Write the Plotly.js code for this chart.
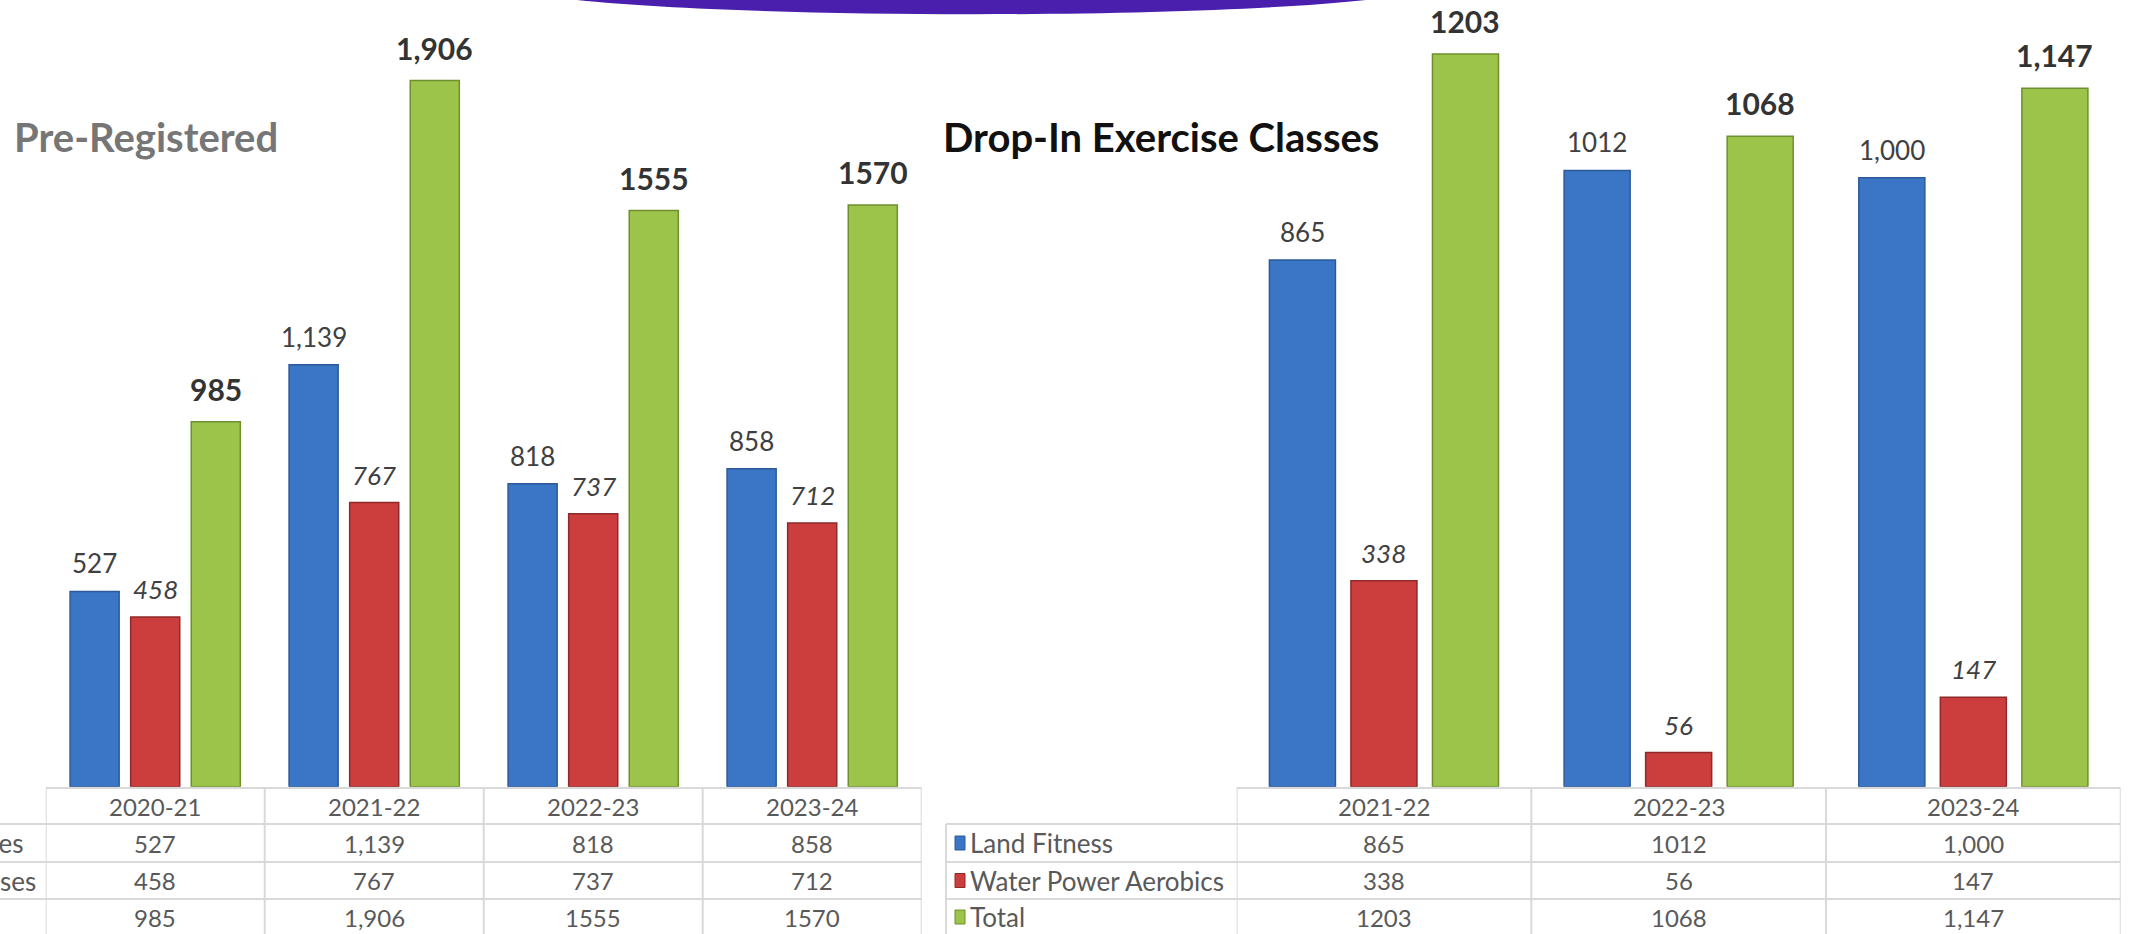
<!DOCTYPE html>
<html><head><meta charset="utf-8">
<script src="https://cdn.plot.ly/plotly-3.0.1.min.js"></script>
<style>html,body{margin:0;padding:0;background:#fff;overflow:hidden}#chart{width:2134px;height:934px}</style>
</head><body><div id="chart"></div>
<script>
// ---------- data ----------
const preCategories = ["2020-21", "2021-22", "2022-23", "2023-24"];
const preLand = [527, 1139, 818, 858];
const preWater = [458, 767, 737, 712];
const preTotal = [985, 1906, 1555, 1570];
const preLandLabels = ["527", "1,139", "818", "858"];
const preWaterLabels = ["458", "767", "737", "712"];
const preTotalLabels = ["985", "1,906", "1555", "1570"];
const preRowNames = ["Land Fitness Classes", "Water Fitness Classes"];

const dropCategories = ["2021-22", "2022-23", "2023-24"];
const dropLand = [865, 1012, 1000];
const dropWater = [338, 56, 147];
const dropTotal = [1203, 1068, 1147];
const dropLandLabels = ["865", "1012", "1,000"];
const dropWaterLabels = ["338", "56", "147"];
const dropTotalLabels = ["1203", "1068", "1,147"];
const dropRowNames = ["Land Fitness", "Water Power Aerobics", "Total"];

const titles = ["Pre-Registered", "Drop-In Exercise Classes"];

// ---------- styling / layout helpers ----------
const W = 2134, H = 934;
const px = v => v / W;
const py = v => 1 - v / H;
const FONT = '"Century Gothic", Lato, "Open Sans", sans-serif';
const BLUE = '#3b76c6', RED = '#cc3d3d', GREEN = '#9cc44a';
const BLUE_L = '#2c5a98', RED_L = '#8f2a2a', GREEN_L = '#6f8f2e';
const GRID = '#d9d9d9';
const BARGAP = 0.17, GROUPGAP = 0.19;
const SLOT = (1 - BARGAP) / 3;

const baseline = 786.7;
const rowsY = [788, 824, 862, 899, 934];
const rowCenters = [806, 843, 880.5, 917];

function bar(x, y, color, line, xa, ya, name) {
  return {type: 'bar', x: x, y: y, name: name, xaxis: xa, yaxis: ya,
    marker: {color: color, line: {color: line, width: 1.5}},
    hoverinfo: 'x+y', showlegend: false};
}

const data = [
  bar(preCategories, preLand, BLUE, BLUE_L, 'x', 'y', 'Land'),
  bar(preCategories, preWater, RED, RED_L, 'x', 'y', 'Water'),
  bar(preCategories, preTotal, GREEN, GREEN_L, 'x', 'y', 'Total'),
  bar(dropCategories, dropLand, BLUE, BLUE_L, 'x2', 'y2', dropRowNames[0]),
  bar(dropCategories, dropWater, RED, RED_L, 'x2', 'y2', dropRowNames[1]),
  bar(dropCategories, dropTotal, GREEN, GREEN_L, 'x2', 'y2', dropRowNames[2])
];

const annotations = [];
const shapes = [];

function barLabels(vals, labels, k, xref, yref, style) {
  vals.forEach((v, i) => {
    annotations.push({xref: xref, yref: yref, x: i + (k - 1) * SLOT, y: v,
      text: labels[i], showarrow: false, xanchor: 'center', yanchor: 'bottom', yshift: style.shift,
      font: {family: FONT, size: style.size, color: style.color, weight: style.weight, style: style.fstyle}});
  });
}
const sBlue = {size: 26, color: '#404040', weight: 'normal', fstyle: 'normal', shift: 10};
const sRed = {size: 26, color: '#404040', weight: 'normal', fstyle: 'italic', shift: 10};
const sGreen = {size: 30, color: '#333333', weight: 'bold', fstyle: 'normal', shift: 13};

barLabels(preLand, preLandLabels, 0, 'x', 'y', sBlue);
barLabels(preWater, preWaterLabels, 1, 'x', 'y', sRed);
barLabels(preTotal, preTotalLabels, 2, 'x', 'y', sGreen);
barLabels(dropLand, dropLandLabels, 0, 'x2', 'y2', sBlue);
barLabels(dropWater, dropWaterLabels, 1, 'x2', 'y2', sRed);
barLabels(dropTotal, dropTotalLabels, 2, 'x2', 'y2', sGreen);

// ---------- data tables ----------
const cellFont = {family: FONT, size: 24, color: '#595959'};
const nameFont = {family: FONT, size: 26, color: '#595959'};
function table(cats, rows, xref, leftPx, rightPx) {
  const n = cats.length;
  for (let i = 0; i <= n; i++) {
    shapes.push({type: 'line', xref: xref, yref: 'paper', x0: i - 0.5, x1: i - 0.5,
      y0: py(rowsY[0]), y1: py(rowsY[4]), line: {color: GRID, width: 2}});
  }
  shapes.push({type: 'line', xref: xref, yref: 'paper', x0: -0.5, x1: n - 0.5,
    y0: py(rowsY[0]), y1: py(rowsY[0]), line: {color: GRID, width: 2}});
  for (let r = 1; r <= 3; r++) {
    shapes.push({type: 'line', xref: 'paper', yref: 'paper', x0: px(leftPx), x1: px(rightPx),
      y0: py(rowsY[r]), y1: py(rowsY[r]), line: {color: GRID, width: 2}});
  }
  cats.forEach((c, i) => {
    annotations.push({xref: xref, yref: 'paper', x: i, y: py(rowCenters[0]), text: c, showarrow: false,
      xanchor: 'center', yanchor: 'middle', font: cellFont});
  });
  rows.forEach((labels, r) => {
    labels.forEach((t, i) => {
      annotations.push({xref: xref, yref: 'paper', x: i, y: py(rowCenters[r + 1]), text: t, showarrow: false,
        xanchor: 'center', yanchor: 'middle', font: cellFont});
    });
  });
}
table(preCategories, [preLandLabels, preWaterLabels, preTotalLabels], 'x', 0, 921.7);
table(dropCategories, [dropLandLabels, dropWaterLabels, dropTotalLabels], 'x2', 946, 2120.7);

shapes.push({type: 'line', xref: 'paper', yref: 'paper', x0: px(946), x1: px(946),
  y0: py(rowsY[1]), y1: py(rowsY[4]), line: {color: GRID, width: 2}});

// row names of left table (cut by the left edge, as in the source)
const preRowEnds = [26, 38];
preRowNames.forEach((t, r) => {
  annotations.push({xref: 'paper', yref: 'paper', x: px(preRowEnds[r]), y: py(rowCenters[r + 1]),
    xanchor: 'right', yanchor: 'middle', text: t, showarrow: false, font: nameFont});
});

// legend keys + row names of right table
const keyColors = [BLUE, RED, GREEN];
const keyLines = [BLUE_L, RED_L, GREEN_L];
dropRowNames.forEach((t, r) => {
  const c = rowCenters[r + 1];
  shapes.push({type: 'rect', xref: 'paper', yref: 'paper', x0: px(955), x1: px(965),
    y0: py(c + 7), y1: py(c - 7), fillcolor: keyColors[r], line: {color: keyLines[r], width: 1}});
  annotations.push({xref: 'paper', yref: 'paper', x: px(968), y: py(c), xanchor: 'left', yanchor: 'middle',
    text: t, showarrow: false, font: nameFont});
});

// titles
annotations.push({xref: 'paper', yref: 'paper', x: px(12), y: py(137), xanchor: 'left', yanchor: 'middle',
  text: titles[0], showarrow: false, font: {family: FONT, size: 40, color: '#767676', weight: 'bold'}});
annotations.push({xref: 'paper', yref: 'paper', x: px(941), y: py(137), xanchor: 'left', yanchor: 'middle',
  text: titles[1], showarrow: false, font: {family: FONT, size: 40, color: '#111111', weight: 'bold'}});

// decorative purple band at top
shapes.push({type: 'path', xref: 'paper', yref: 'paper', layer: 'above',
  path: `M ${px(577)},1 C ${px(760)},${py(19)} ${px(1190)},${py(19)} ${px(1366)},1 Z`,
  fillcolor: '#4a1fae', line: {width: 0}});

const hiddenX = {type: 'category', showgrid: false, zeroline: false, showline: false,
  showticklabels: false, ticks: '', fixedrange: true};
const hiddenY = {showgrid: false, zeroline: false, showline: false, showticklabels: false, ticks: '', fixedrange: true};

const layout = {
  width: W, height: H,
  margin: {l: 0, r: 0, t: 0, b: 0, pad: 0},
  paper_bgcolor: '#ffffff', plot_bgcolor: 'rgba(0,0,0,0)',
  barmode: 'group', bargap: BARGAP, bargroupgap: GROUPGAP,
  showlegend: false,
  xaxis: Object.assign({}, hiddenX, {domain: [px(45.7), px(921.7)], range: [-0.5, preCategories.length - 0.5], anchor: 'y'}),
  yaxis: Object.assign({}, hiddenY, {domain: [py(baseline), 1], range: [0, baseline / 0.3705], anchor: 'x'}),
  xaxis2: Object.assign({}, hiddenX, {domain: [px(1236.6), px(2120.7)], range: [-0.5, dropCategories.length - 0.5], anchor: 'y2'}),
  yaxis2: Object.assign({}, hiddenY, {domain: [py(baseline), 1], range: [0, baseline / 0.609], anchor: 'x2'}),
  annotations: annotations,
  shapes: shapes
};

Plotly.newPlot('chart', data, layout, {displayModeBar: false, staticPlot: true});
</script>
</body></html>
